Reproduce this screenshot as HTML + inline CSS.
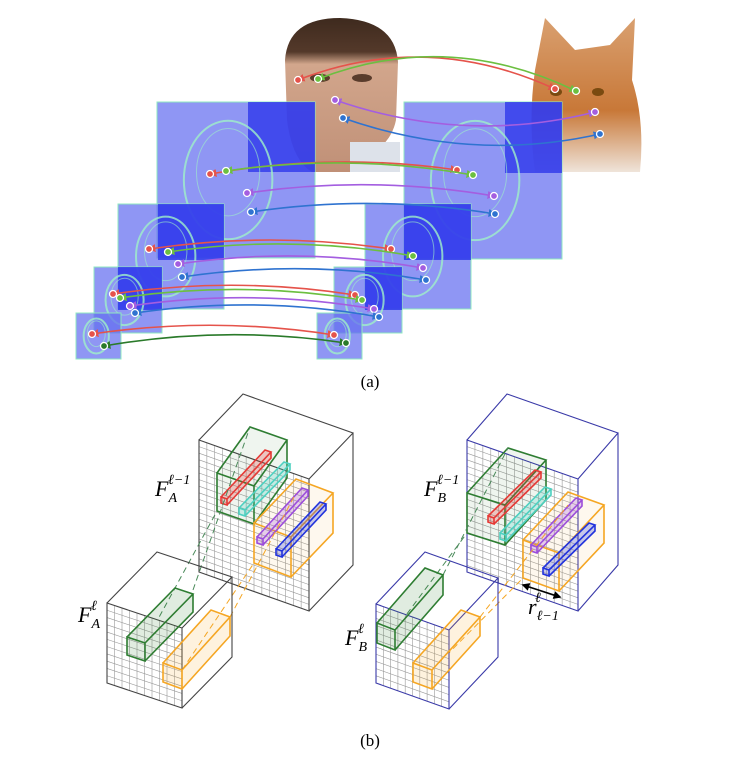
<!DOCTYPE html>
<html><head><meta charset="utf-8"><style>
html,body{margin:0;padding:0;background:#fff;}
svg{display:block;font-family:"Liberation Serif",serif;}
</style></head><body>
<svg id="fig" width="744" height="770" viewBox="0 0 744 770" xmlns="http://www.w3.org/2000/svg">
<defs>
<marker id="ah" viewBox="0 0 10 10" refX="8" refY="5" markerWidth="5" markerHeight="5" orient="auto-start-reverse"><path d="M0,0L10,5L0,10z" fill="context-stroke"/></marker>
<linearGradient id="skin" x1="0" y1="0" x2="0" y2="1"><stop offset="0" stop-color="#3e2a1e"/><stop offset="0.22" stop-color="#54392a"/><stop offset="0.3" stop-color="#d2a68c"/><stop offset="1" stop-color="#c09077"/></linearGradient>
<linearGradient id="cat" x1="0" y1="0" x2="0" y2="1"><stop offset="0" stop-color="#d9a070"/><stop offset="0.6" stop-color="#c87838"/><stop offset="1" stop-color="#efe4da"/></linearGradient>
</defs>
<g id="parta">
<g>
<path d="M285,60 Q288,18 340,18 Q395,20 398,62 L396,120 Q390,150 355,160 L355,172 L312,172 Q292,160 287,120 Z" fill="url(#skin)"/>
<rect x="350" y="142" width="50" height="30" fill="#dde2ea"/>
<ellipse cx="320" cy="78" rx="10" ry="4" fill="#5a3c2c"/><ellipse cx="362" cy="78" rx="10" ry="4" fill="#5a3c2c"/>
</g>
<g>
<path d="M535,70 L545,18 L575,50 L610,45 L635,18 L632,80 Q645,120 640,172 L535,172 Q528,120 535,70Z" fill="url(#cat)"/>
<ellipse cx="556" cy="92" rx="6" ry="4" fill="#7a4a10"/><ellipse cx="598" cy="92" rx="6" ry="4" fill="#7a4a10"/>
</g>
<g id="panels"></g>
<g id="arrows"></g>
<text x="370" y="387" font-size="17" text-anchor="middle">(a)</text>
</g>
<g id="partb"></g>
<g font-style="italic" font-size="22">
<text x="155" y="496">F<tspan font-size="14" dy="6">A</tspan><tspan font-size="14" dx="-9" dy="-18">ℓ−1</tspan></text>
<text x="78" y="622">F<tspan font-size="14" dy="6">A</tspan><tspan font-size="14" dx="-9" dy="-18">ℓ</tspan></text>
<text x="424" y="496">F<tspan font-size="14" dy="6">B</tspan><tspan font-size="14" dx="-9" dy="-18">ℓ−1</tspan></text>
<text x="345" y="645">F<tspan font-size="14" dy="6">B</tspan><tspan font-size="14" dx="-9" dy="-18">ℓ</tspan></text>
<text x="528" y="614">r<tspan font-size="14" dy="6">ℓ−1</tspan><tspan font-size="14" dx="-24" dy="-18">ℓ</tspan></text>
</g>
<text x="370" y="746" font-size="17" text-anchor="middle">(b)</text>
</svg>
<script>
const NS="http://www.w3.org/2000/svg";
function mk(parent,tag,attrs,name){const e=document.createElementNS(NS,tag);for(const k in attrs)e.setAttribute(k,attrs[k]);


parent.appendChild(e);return e;}
const P=document.getElementById('panels');
const panels=[[157,102,315,258,248,172],[404,102,562,259,505,173],[118,204,224,309,158,260],[365,204,471,309,404,260],[94,267,162,333,118,310],[334,267,402,333,365,310],[76,313,121,359,76,313],[317,313,362,359,317,313]];
panels.forEach((p,i)=>{
 mk(P,'rect',{x:p[0],y:p[1],width:p[2]-p[0],height:p[3]-p[1],fill:'rgba(100,110,240,0.72)',stroke:'#8fe8c0','stroke-width':1},'feature-panel');
 if(p[4]>p[0]) mk(P,'rect',{x:p[4],y:p[1],width:p[2]-p[4],height:p[5]-p[1],fill:'rgba(40,50,235,0.75)'},'feature-panel-dark');
 const cx=(p[0]+p[2])/2,cy=(p[1]+p[3])/2,w=(p[2]-p[0]),h=p[3]-p[1];
 mk(P,'ellipse',{cx:cx-w*0.05,cy:cy,rx:w*0.28,ry:h*0.38,fill:'none',stroke:'#9ff0c8','stroke-width':2,opacity:0.8},'feature-edge');
 mk(P,'ellipse',{cx:cx-w*0.05,cy:cy-h*0.05,rx:w*0.2,ry:h*0.28,fill:'none',stroke:'#9ff0c8','stroke-width':1,opacity:0.6},'feature-edge');
});
const A=document.getElementById('arrows');
const arr=[['#e5534b',298,80,555,89],['#6cbf40',318,79,576,91],['#a45ee0',335,100,595,112],['#2f73d0',343,118,600,134],
['#e5534b',210,174,457,170],['#6cbf40',226,171,473,175],['#a45ee0',247,193,494,196],['#2f73d0',251,212,495,214],
['#e5534b',149,249,391,249],['#6cbf40',168,252,413,256],['#a45ee0',178,264,423,268],['#2f73d0',182,277,426,280],
['#e5534b',113,294,355,295],['#6cbf40',120,298,362,300],['#a45ee0',130,306,374,309],['#2f73d0',135,313,379,317],
['#e5534b',92,334,334,335],['#2a7a2a',104,346,346,343]];
arr.forEach((a,i)=>{
 const mx=(a[1]+a[3])/2, lift=(i<2)?50:(i<4?-5:18);
 const my=Math.min(a[2],a[4])-lift + (i>=2&&i<4?40:0);
 mk(A,'path',{d:`M${a[1]},${a[2]} Q${mx},${my} ${a[3]},${a[4]}`,fill:'none',stroke:a[0],'stroke-width':1.6,'marker-start':'url(#ah)','marker-end':'url(#ah)'},'correspondence-arrow');
 mk(A,'circle',{cx:a[1],cy:a[2],r:3.5,fill:a[0],stroke:'#fff','stroke-width':1.3},'keypoint');
 mk(A,'circle',{cx:a[3],cy:a[4],r:3.5,fill:a[0],stroke:'#fff','stroke-width':1.3},'keypoint');
});
const B=document.getElementById('partb');
function pt(o,u,v,U,V){return [o[0]+u*U[0]+v*V[0], o[1]+u*U[1]+v*V[1]];}
function cube(tl,tr,bl,off,col,nx,ny,name){
 const br=[tr[0]+bl[0]-tl[0],tr[1]+bl[1]-tl[1]];
 const g=mk(B,'g',{},name);
 const U=[tr[0]-tl[0],tr[1]-tl[1]],V=[bl[0]-tl[0],bl[1]-tl[1]];
 mk(g,'path',{d:`M${tl}L${tr}L${br}L${bl}Z`,fill:'#fff'},'cube-face');
 for(let i=1;i<nx;i++){const a=pt(tl,i/nx,0,U,V),b=pt(tl,i/nx,1,U,V);mk(g,'line',{x1:a[0],y1:a[1],x2:b[0],y2:b[1],stroke:'#999','stroke-width':0.6},'grid-line');}
 for(let j=1;j<ny;j++){const a=pt(tl,0,j/ny,U,V),b=pt(tl,1,j/ny,U,V);mk(g,'line',{x1:a[0],y1:a[1],x2:b[0],y2:b[1],stroke:'#999','stroke-width':0.6},'grid-line');}
 const t=(p)=>[p[0]+off[0],p[1]+off[1]];
 const btl=t(tl),btr=t(tr),bbr=t(br);
 mk(g,'path',{d:`M${tl}L${tr}L${br}L${bl}Z M${tl}L${btl}L${btr}L${tr} M${btr}L${bbr}L${br}`,fill:'none',stroke:col,'stroke-width':1.1},'cube-outline');
 return g;
}
function box(tl,tr,bl,off,col,fillop,name){
 const br=[tr[0]+bl[0]-tl[0],tr[1]+bl[1]-tl[1]];
 const t=(p)=>[p[0]+off[0],p[1]+off[1]];
 const btl=t(tl),btr=t(tr),bbr=t(br);
 mk(B,'path',{d:`M${tl}L${btl}L${btr}L${bbr}L${br}L${bl}Z`,fill:col,'fill-opacity':fillop,stroke:'none'},name+'-fill');
 mk(B,'path',{d:`M${tl}L${tr}L${br}L${bl}Z M${tl}L${btl}L${btr}L${tr} M${btr}L${bbr}L${br}`,fill:'none',stroke:col,'stroke-width':1.6},name);
}
function bar(f,b,col,name){const s=6;
 box([f[0],f[1]],[f[0]+s,f[1]+2],[f[0],f[1]+s],[b[0]-f[0],b[1]-f[1]],col,0.25,name);}
cube([199,440],[309,479],[199,572],[44,-46],'#444',14,20,'cube-FA-l-1');
cube([467,440],[578,479],[467,572],[40,-46],'#3a3aa8',14,20,'cube-FB-l-1');
box([217,473],[254,486],[217,511],[33,-46],'#2e7d32',0.08,'green-window-A');
box([254,523],[291,537],[254,563],[42,-44],'#f5a623',0.08,'orange-window-A');
bar([221,497],[265,450],'#e53935','red-bar-A');
bar([239,508],[284,462],'#4dd0c0','cyan-bar-A');
bar([257,537],[302,488],'#9c4ddb','purple-bar-A');
bar([276,549],[320,502],'#2233dd','blue-bar-A');
box([467,493],[505,505],[467,533],[41,-45],'#2e7d32',0.08,'green-window-B');
box([523,540],[559,553],[523,578],[45,-48],'#f5a623',0.08,'orange-window-B');
bar([488,516],[535,470],'#e53935','red-bar-B');
bar([500,533],[545,487],'#4dd0c0','cyan-bar-B');
bar([531,545],[576,498],'#9c4ddb','purple-bar-B');
bar([543,568],[589,523],'#2233dd','blue-bar-B');
[[145,643,217,511,'#4a8a5a'],[193,590,250,427,'#4a8a5a'],[182,670,254,563,'#f5a623'],[230,617,296,493,'#f5a623'],
 [395,630,467,533,'#4a8a5a'],[443,575,508,448,'#4a8a5a'],[432,670,523,578,'#f5a623'],[480,617,568,505,'#f5a623']].forEach(d=>{
 mk(B,'line',{x1:d[0],y1:d[1],x2:d[2],y2:d[3],stroke:d[4],'stroke-width':1,'stroke-dasharray':'6,4'},'projection-dash');});
cube([107,603],[182,628],[107,683],[50,-51],'#444',10,11,'cube-FA-l');
cube([376,604],[449,630],[376,683],[49,-52],'#3a3aa8',10,11,'cube-FB-l');
box([127,637],[145,643],[127,655],[48,-49],'#2e7d32',0.15,'green-column-A');
box([163,663],[182,670],[163,682],[48,-53],'#f5a623',0.15,'orange-column-A');
box([377,623],[395,630],[377,643],[48,-55],'#2e7d32',0.15,'green-column-B');
box([413,663],[432,670],[413,682],[48,-53],'#f5a623',0.15,'orange-column-B');
mk(B,'line',{x1:523,y1:585,x2:560,y2:597,stroke:'#000','stroke-width':1.6,'marker-start':'url(#ah)','marker-end':'url(#ah)'},'radius-arrow');
</script>
</body></html>
